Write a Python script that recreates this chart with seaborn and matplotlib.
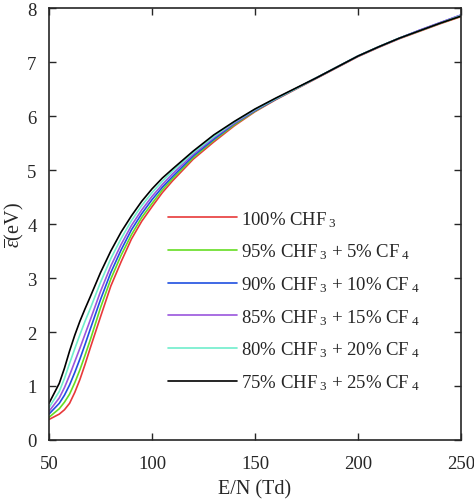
import numpy as np
import pandas as pd
import matplotlib.pyplot as plt
import seaborn as sns

# E/N grid (Td)
en = [50, 55, 57.5, 60, 62.5, 65, 67.5, 70, 75, 80, 85, 90, 95, 100, 105, 110, 120, 130, 140,
      150, 160, 170, 180, 190, 200, 210, 220, 230, 240, 250]

# mean electron energy (eV) for each mixture
chf3_100 = [0.38, 0.48, 0.56, 0.68, 0.88, 1.12, 1.40, 1.70, 2.28, 2.85, 3.30, 3.72, 4.05, 4.32, 4.58, 4.80,
            5.20, 5.52, 5.82, 6.08, 6.30, 6.50, 6.70, 6.90, 7.10, 7.27, 7.43, 7.57, 7.71, 7.84]
chf3_95 = [0.42, 0.58, 0.70, 0.85, 1.06, 1.30, 1.57, 1.85, 2.45, 2.98, 3.42, 3.80, 4.12, 4.38, 4.63, 4.84,
           5.23, 5.55, 5.84, 6.09, 6.31, 6.51, 6.71, 6.91, 7.11, 7.28, 7.44, 7.58, 7.72, 7.85]
chf3_90 = [0.48, 0.68, 0.83, 1.02, 1.25, 1.50, 1.77, 2.05, 2.60, 3.10, 3.52, 3.89, 4.19, 4.45, 4.68, 4.88,
           5.26, 5.57, 5.86, 6.10, 6.31, 6.51, 6.71, 6.91, 7.11, 7.28, 7.44, 7.59, 7.73, 7.87]
chf3_85 = [0.53, 0.78, 0.97, 1.20, 1.45, 1.70, 1.96, 2.22, 2.75, 3.22, 3.62, 3.97, 4.26, 4.51, 4.73, 4.93,
           5.29, 5.60, 5.87, 6.11, 6.32, 6.51, 6.71, 6.91, 7.11, 7.28, 7.44, 7.59, 7.73, 7.87]
chf3_80 = [0.60, 0.90, 1.14, 1.42, 1.69, 1.95, 2.20, 2.43, 2.92, 3.36, 3.73, 4.06, 4.34, 4.58, 4.79, 4.98,
           5.32, 5.62, 5.89, 6.12, 6.32, 6.51, 6.71, 6.91, 7.11, 7.28, 7.44, 7.58, 7.72, 7.86]
chf3_75 = [0.68, 1.05, 1.33, 1.65, 1.94, 2.20, 2.43, 2.65, 3.10, 3.50, 3.85, 4.15, 4.42, 4.65, 4.85, 5.02,
           5.35, 5.65, 5.90, 6.13, 6.33, 6.52, 6.71, 6.91, 7.11, 7.28, 7.44, 7.58, 7.72, 7.85]

labels = [
    r"100% CHF$_{\;3}$",
    r"95% CHF$_{\;3}$ + 5% CF$_{\;4}$",
    r"90% CHF$_{\;3}$ + 10% CF$_{\;4}$",
    r"85% CHF$_{\;3}$ + 15% CF$_{\;4}$",
    r"80% CHF$_{\;3}$ + 20% CF$_{\;4}$",
    r"75% CHF$_{\;3}$ + 25% CF$_{\;4}$",
]
colors = ["#e8393a", "#66dd22", "#1f4fe0", "#9955dd", "#70eecc", "#000000"]
series = [chf3_100, chf3_95, chf3_90, chf3_85, chf3_80, chf3_75]

df = pd.concat(
    [pd.DataFrame({"E/N": en, "energy": s, "mix": lab}) for s, lab in zip(series, labels)],
    ignore_index=True,
)

sns.set_style("ticks")
plt.rcParams["font.family"] = ["Liberation Serif", "DejaVu Serif"]
plt.rcParams["mathtext.fontset"] = "custom"
plt.rcParams["mathtext.rm"] = "Liberation Serif"
plt.rcParams["mathtext.it"] = "Liberation Serif:italic"

fig = plt.figure(figsize=(4.74, 5.02), dpi=100)
ax = fig.add_axes([49 / 474, 61 / 502, 412 / 474, 432 / 502])

sns.lineplot(
    data=df, x="E/N", y="energy", hue="mix", hue_order=labels,
    palette=colors, linewidth=1.2, ax=ax,
)

ax.set_xlim(50, 250)
ax.set_ylim(0, 8)
ax.set_xticks([50, 100, 150, 200, 250])
ax.set_yticks(range(0, 9))
ax.tick_params(direction="in", top=True, right=True, length=5, width=1,
               labelsize=13.5)
ax.tick_params(axis="x", pad=11)
ax.tick_params(axis="y", pad=9)
for sp in ax.spines.values():
    sp.set_linewidth(1.2)
    sp.set_visible(True)

ax.set_xlabel("E/N (Td)", fontsize=14.5, labelpad=5)
ax.set_ylabel(r"$\overline{\epsilon}$(eV)", fontsize=14.5, labelpad=1)

ax.legend(
    loc="upper left", bbox_to_anchor=((168 - 49) / 412, (441 - 210) / 432),
    frameon=False, fontsize=13.5, handlelength=3.7, handletextpad=0.2,
    labelspacing=0.69, borderpad=0, borderaxespad=0,
)

plt.savefig("out.png", dpi=100)
